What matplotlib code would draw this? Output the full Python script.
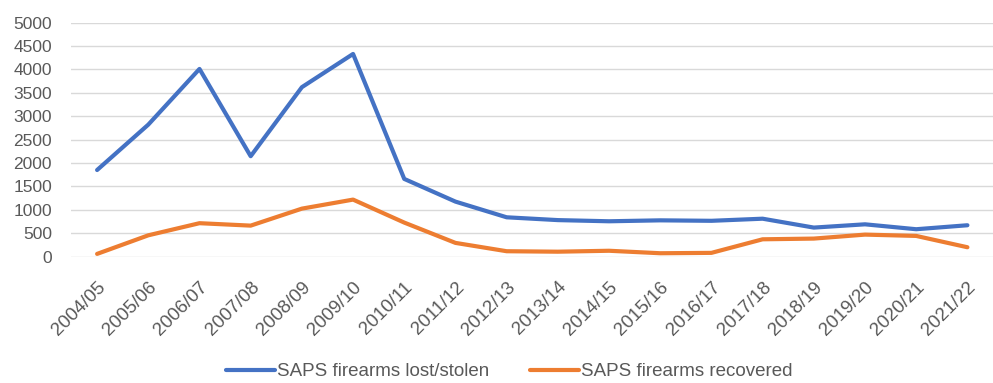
import matplotlib.pyplot as plt
from matplotlib.transforms import ScaledTranslation

years = ["2004/05", "2005/06", "2006/07", "2007/08", "2008/09", "2009/10",
         "2010/11", "2011/12", "2012/13", "2013/14", "2014/15", "2015/16",
         "2016/17", "2017/18", "2018/19", "2019/20", "2020/21", "2021/22"]
lost_stolen = [1850, 2820, 4010, 2145, 3620, 4330, 1660, 1175, 840, 780,
               755, 775, 765, 810, 620, 690, 585, 670]
recovered = [58, 455, 714, 662, 1025, 1218, 727, 293, 115, 105,
             125, 72, 80, 370, 385, 470, 442, 200]

plt.rcParams["font.family"] = ["Liberation Sans", "DejaVu Sans"]

fig = plt.figure(figsize=(9.93, 3.83), dpi=100)
ax = fig.add_axes([0.072, 0.330, 0.928, 0.611])

x = range(len(years))
ax.plot(x, lost_stolen, color="#4472C4", linewidth=3, label="SAPS firearms lost/stolen",
        solid_capstyle="round", solid_joinstyle="round")
ax.plot(x, recovered, color="#ED7D31", linewidth=3, label="SAPS firearms recovered",
        solid_capstyle="round", solid_joinstyle="round")

ax.set_xlim(-0.5, len(years) - 0.5)
ax.set_ylim(0, 5000)
ax.set_yticks(range(0, 5001, 500))
ax.set_xticks(list(x))
ax.set_xticklabels(years, rotation=45, ha="right", va="center", rotation_mode="anchor")
ax.tick_params(axis="both", length=0, labelsize=12.5, colors="#595959")
ax.tick_params(axis="x", labelsize=13.5, pad=20)
ax.tick_params(axis="y", pad=14)
shift = ScaledTranslation(6 / 100, 0, fig.dpi_scale_trans)
for lbl in ax.get_xticklabels():
    lbl.set_transform(lbl.get_transform() + shift)
ax.grid(axis="y", color="#D9D9D9", linewidth=1)
ax.set_axisbelow(True)
for s in ax.spines.values():
    s.set_visible(False)

fig.legend(loc="center", bbox_to_anchor=(0.513, 0.03), ncol=2, frameon=False,
           fontsize=13.5, handlelength=2.6, handletextpad=0.1, columnspacing=2.2,
           labelcolor="#595959", borderpad=0.2)

fig.savefig("out.png", dpi=100)
